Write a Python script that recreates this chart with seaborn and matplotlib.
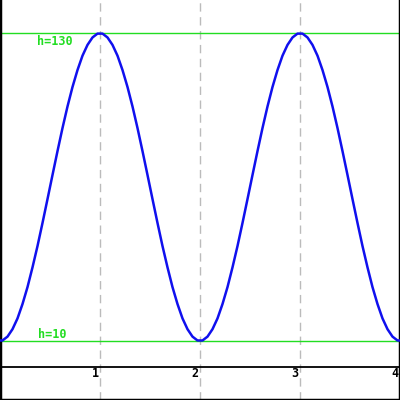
import numpy as np
import pandas as pd
import matplotlib
matplotlib.use("Agg")
import matplotlib.pyplot as plt
import seaborn as sns

x_vals = [-0.025, 0.025, 0.075, 0.125, 0.175, 0.225, 0.275, 0.325, 0.375, 0.425,
          0.475, 0.525, 0.575, 0.625, 0.675, 0.725, 0.775, 0.825, 0.875, 0.925,
          0.975, 1.025, 1.075, 1.125, 1.175, 1.225, 1.275, 1.325, 1.375, 1.425,
          1.475, 1.525, 1.575, 1.625, 1.675, 1.725, 1.775, 1.825, 1.875, 1.925,
          1.975, 2.025, 2.075, 2.125, 2.175, 2.225, 2.275, 2.325, 2.375, 2.425,
          2.475, 2.525, 2.575, 2.625, 2.675, 2.725, 2.775, 2.825, 2.875, 2.925,
          2.975, 3.025, 3.075, 3.125, 3.175, 3.225, 3.275, 3.325, 3.375, 3.425,
          3.475, 3.525, 3.575, 3.625, 3.675, 3.725, 3.775, 3.825, 3.875, 3.925,
          3.975, 4.025]
h_vals = [10.2, 10.2, 11.7, 14.6, 18.8, 24.4, 31.0, 38.7, 47.0, 56.0,
          65.3, 74.7, 84.0, 93.0, 101.4, 109.0, 115.6, 121.2, 125.4, 128.3,
          129.8, 129.8, 128.3, 125.4, 121.2, 115.6, 109.0, 101.4, 93.0, 84.0,
          74.7, 65.3, 56.0, 47.0, 38.7, 31.0, 24.4, 18.8, 14.6, 11.7,
          10.2, 10.2, 11.7, 14.6, 18.8, 24.4, 31.0, 38.7, 47.0, 56.0,
          65.3, 74.7, 84.0, 93.0, 101.4, 109.0, 115.6, 121.2, 125.4, 128.3,
          129.8, 129.8, 128.3, 125.4, 121.2, 115.6, 109.0, 101.4, 93.0, 84.0,
          74.7, 65.3, 56.0, 47.0, 38.7, 31.0, 24.4, 18.8, 14.6, 11.7,
          10.2, 10.2]
tick_vals = [1, 2, 3, 4]
tick_labels = ["1", "2", "3", "4"]
ref_levels = [130, 10]
ref_labels = ["h=130", "h=10"]

df = pd.DataFrame({"x": x_vals, "h": h_vals})

sns.set_style("white")
fig = plt.figure(figsize=(4, 4), dpi=100)
ax = fig.add_axes([0, 0, 1, 1])

green = "#22dd22"
mono = {"family": "DejaVu Sans Mono", "weight": "bold"}

for t in tick_vals[:-1]:
    ax.axvline(t, color="#bbbbbb", lw=1, ls=(0, (6, 4)), zorder=1)

for lvl in ref_levels:
    ax.axhline(lvl, color=green, lw=1, zorder=2)

ax.axhline(0, color="black", lw=1.3, zorder=2)

sns.lineplot(data=df, x="x", y="h", ax=ax, color="#1010ee", lw=1.8,
             zorder=3, estimator=None, sort=False)

ax.text(0.37, 129.2, ref_labels[0], color=green, fontsize=8.5, va="top",
        ha="left", **mono, zorder=4)
ax.text(0.38, 12.7, ref_labels[1], color=green, fontsize=8.5, va="center",
        ha="left", **mono, zorder=4)

for t, lab in zip(tick_vals, tick_labels):
    ax.annotate(lab, xy=(t, -2.7), xytext=(-1, 0), textcoords="offset points",
                ha="right", va="center", fontsize=8.5, color="black", **mono)

ax.set_xlim(0, 4)
ax.set_ylim(-13, 142.9)
ax.set_xticks([])
ax.set_yticks([])
ax.set_xlabel("")
ax.set_ylabel("")
for side in ["left", "right", "bottom"]:
    ax.spines[side].set_visible(True)
    ax.spines[side].set_color("black")
    ax.spines[side].set_linewidth(2.5)
ax.spines["top"].set_visible(False)

fig.savefig("out.png", dpi=100)
